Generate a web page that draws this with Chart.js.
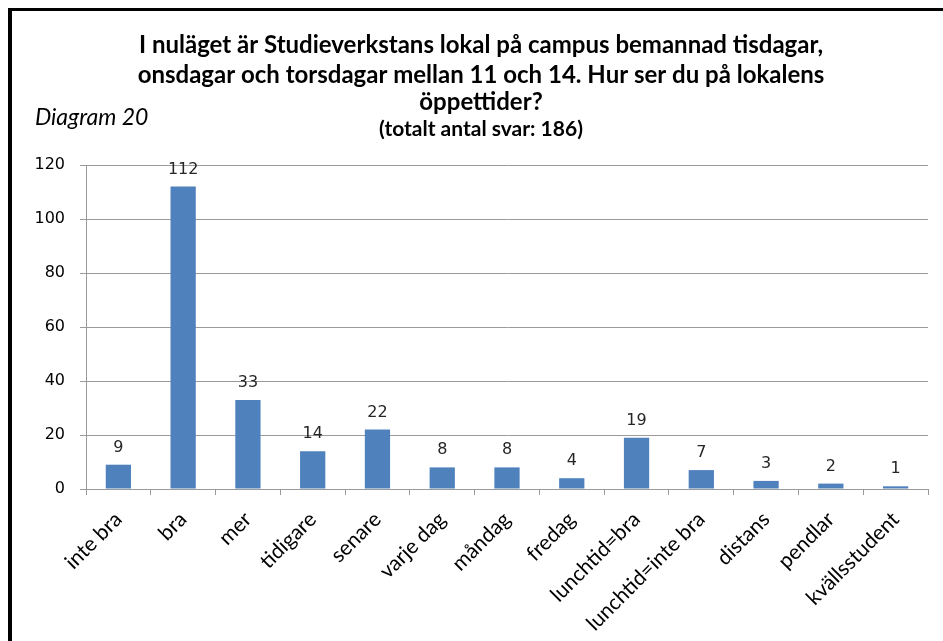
<!DOCTYPE html>
<html><head><meta charset="utf-8">
<script src="https://cdn.jsdelivr.net/npm/chart.js@4.4.1/dist/chart.umd.min.js"></script>
<style>
html,body{margin:0;padding:0;background:#fff;}
#wrap{position:absolute;left:0;top:0;width:943px;height:641px;}
#frame{position:absolute;left:8px;top:8px;width:935px;height:633px;border-left:4px solid #000;border-top:3px solid #000;box-sizing:border-box;}
canvas{position:absolute;left:0;top:0;}
</style></head>
<body>
<div id="wrap"><div id="frame"></div><canvas id="c" width="943" height="641"></canvas></div>
<script>
const categories = ["inte bra","bra","mer","tidigare","senare","varje dag","måndag","fredag","lunchtid=bra","lunchtid=inte bra","distans","pendlar","kvällsstudent"];
const values = [9,112,33,14,22,8,8,4,19,7,3,2,1];
const titleLines = ["I nuläget är Studieverkstans lokal på campus bemannad tisdagar,","onsdagar och torsdagar mellan 11 och 14. Hur ser du på lokalens","öppettider?"];
const subtitleText = "(totalt antal svar: 186)";
const diagramLabel = "Diagram 20";

const textPlugin = {
  id:'texts',
  afterDraw(chart){
    const ctx = chart.ctx;
    ctx.save();
    ctx.fillStyle = '#000';
    ctx.textAlign = 'center';
    ctx.textBaseline = 'middle';
    ctx.font = 'bold 24px Lato';
    const ys = [45,75,102];
    titleLines.forEach((t,i)=>ctx.fillText(t,481,ys[i]));
    ctx.font = 'bold 21px Lato';
    ctx.fillText(subtitleText,481,129);
    ctx.textAlign='left';
    ctx.font = 'italic 23px Lato';
    ctx.fillText(diagramLabel,35,118);
    // data labels
    const meta = chart.getDatasetMeta(0);
    ctx.font = '16px "DejaVu Sans"';
    ctx.fillStyle = '#262626';
    ctx.textAlign='center';
    ctx.textBaseline='alphabetic';
    meta.data.forEach((bar,i)=>{
      ctx.fillText(String(values[i]), bar.x, bar.y-13);
    });
    ctx.restore();
  }
};

new Chart(document.getElementById('c'),{
  type:'bar',
  data:{labels:categories,datasets:[{data:values,backgroundColor:'#4f81bd',borderWidth:0,barPercentage:0.39,categoryPercentage:1}]},
  options:{
    responsive:false,animation:false,
    layout:{padding:{left:0,top:165,right:15,bottom:0}},
    plugins:{legend:{display:false},tooltip:{enabled:false}},
    scales:{
      x:{
        grid:{drawOnChartArea:false,drawTicks:true,tickLength:6,color:'#9a9a9a',offset:true},
        border:{color:'#9a9a9a',width:1},
        ticks:{maxRotation:45,minRotation:45,autoSkip:false,padding:12,color:'#000',font:{family:'Lato',size:21}},
        afterFit(s){s.height=641-489;}
      },
      y:{
        min:0,max:120,
        grid:{color:'#9a9a9a',tickLength:6},
        border:{color:'#9a9a9a',width:1},
        ticks:{stepSize:20,padding:15,color:'#000',font:{family:'DejaVu Sans',size:16}},
        afterFit(s){s.width=86;}
      }
    }
  },
  plugins:[textPlugin]
});
</script>
</body></html>
